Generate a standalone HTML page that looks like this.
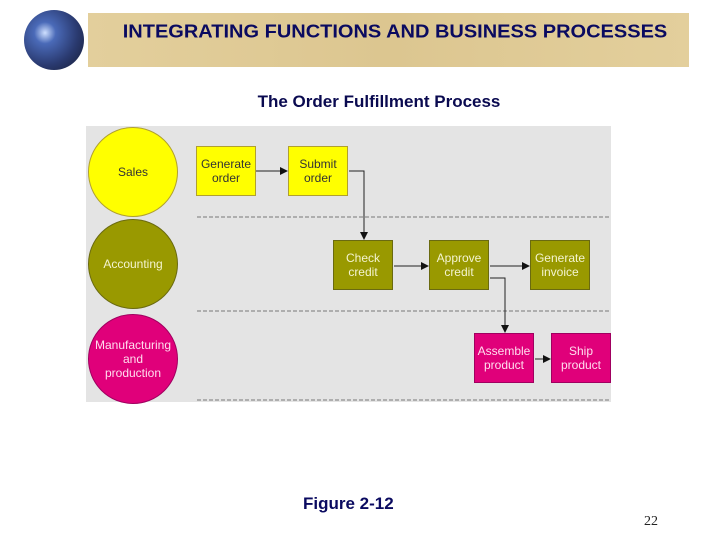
<!DOCTYPE html>
<html><head><style>
body{margin:0;width:720px;height:540px;background:#fff;position:relative;overflow:hidden;font-family:"Liberation Sans",Arial,sans-serif}
.a{position:absolute}
.box{position:absolute;width:60px;height:50px;border:1px solid #7a7a30;box-sizing:border-box;display:flex;align-items:center;justify-content:center;text-align:center;font-size:12px;line-height:14px}
.y{background:#ffff00;color:#333;border-color:#b0a030}
.o{background:#999900;color:#f4f4d0;border-color:#6a6a10}
.m{background:#e0007a;color:#fde;border-color:#a00060}
.c{position:absolute;border-radius:50%;display:flex;align-items:center;justify-content:center;text-align:center;font-size:12px;line-height:14px}
</style></head><body>
<div class="a" style="left:88px;top:13px;width:601px;height:54px;background:linear-gradient(90deg,#e3cf9c,#dcc690 50%,#e3cf9c)"></div>
<div class="a" style="left:24px;top:10px;width:60px;height:60px;border-radius:50%;background:radial-gradient(circle at 35% 38%,#cfe0ff 0%,#4a6ab8 20%,#2a3a70 60%,#151a30 100%)"></div>
<div class="a" style="left:88px;top:21px;width:614px;text-align:center;font-weight:bold;font-size:20px;color:#0a0a60;transform:scaleY(0.92)">INTEGRATING FUNCTIONS AND BUSINESS PROCESSES</div>
<div class="a" style="left:0;top:92px;width:758px;text-align:center;font-weight:bold;font-size:17px;color:#0a0a50">The Order Fulfillment Process</div>
<div class="a" style="left:86px;top:126px;width:525px;height:276px;background:#e4e4e4"></div>
<svg class="a" style="left:0;top:0" width="720" height="540">
<g stroke="#777" stroke-dasharray="4,2" stroke-width="1"><line x1="197" y1="217" x2="611" y2="217"/><line x1="197" y1="311" x2="611" y2="311"/><line x1="197" y1="400" x2="611" y2="400"/></g>
<g stroke="#222" fill="none"><polyline points="256,171 282,171"/><polyline points="349,171 364,171 364,234"/><polyline points="394,266 423,266"/><polyline points="490,266 524,266"/><polyline points="490,278 505,278 505,327"/><polyline points="535,359 545,359"/></g>
<g fill="#111"><polygon points="288,171 280,167 280,175"/><polygon points="364,240 360,232 368,232"/><polygon points="429,266 421,262 421,270"/><polygon points="530,266 522,262 522,270"/><polygon points="505,333 501,325 509,325"/><polygon points="551,359 543,355 543,363"/></g>
</svg>
<div class="c" style="left:88px;top:127px;width:88px;height:88px;background:#ffff00;border:1px solid #b0a030;color:#333">Sales</div>
<div class="c" style="left:88px;top:219px;width:88px;height:88px;background:#999900;border:1px solid #6a6a10;color:#f4f4d0">Accounting</div>
<div class="c" style="left:88px;top:314px;width:88px;height:88px;background:#e0007a;border:1px solid #a00060;color:#fde">Manufacturing<br>and<br>production</div>
<div class="box y" style="left:196px;top:146px">Generate<br>order</div>
<div class="box y" style="left:288px;top:146px">Submit<br>order</div>
<div class="box o" style="left:333px;top:240px">Check<br>credit</div>
<div class="box o" style="left:429px;top:240px">Approve<br>credit</div>
<div class="box o" style="left:530px;top:240px">Generate<br>invoice</div>
<div class="box m" style="left:474px;top:333px">Assemble<br>product</div>
<div class="box m" style="left:551px;top:333px">Ship<br>product</div>
<div class="a" style="left:303px;top:494px;font-weight:bold;font-size:17px;color:#0a0a60">Figure 2-12</div>
<div class="a" style="left:644px;top:514px;font-family:'Liberation Serif',serif;font-size:14px;color:#222">22</div>
</body></html>
